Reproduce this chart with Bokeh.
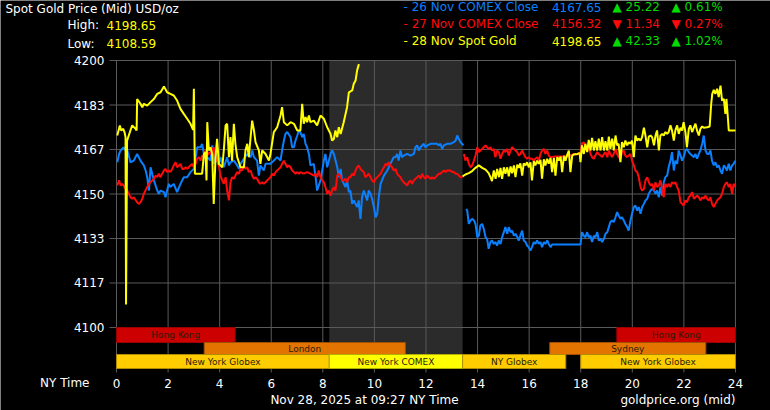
from bokeh.plotting import figure
from bokeh.models import Range1d
from bokeh.embed import file_html
from bokeh.resources import INLINE
from bokeh.core.properties import value

# ---------------- data ----------------
price_ticks = [4100, 4116.667, 4133.333, 4150, 4166.667, 4183.333, 4200]
price_tick_labels = ["4100", "4117", "4133", "4150", "4167", "4183", "4200"]
hour_ticks = [0, 2, 4, 6, 8, 10, 12, 14, 16, 18, 20, 22, 24]

# 26 Nov (COMEX close 4167.65) - blue
nov26_a_hours = [0.03, 0.10, 0.16, 0.28, 0.35, 0.41, 0.54, 0.67, 0.80, 0.93, 1.06, 1.13, 1.19, 1.26, 1.32, 1.45, 1.58, 1.64, 1.71, 1.84, 1.90, 1.96, 2.03, 2.09, 2.22, 2.35, 2.48, 2.61, 2.74, 2.87, 3.00, 3.07, 3.13, 3.26, 3.32, 3.39, 3.52, 3.64, 3.71, 3.77, 3.84, 3.90, 3.97, 4.03, 4.16, 4.29, 4.36, 4.42, 4.55, 4.68, 4.75, 4.81, 4.94, 5.07, 5.20, 5.26, 5.33, 5.45, 5.52, 5.58, 5.71, 5.78, 5.84, 5.97, 6.10, 6.23, 6.36, 6.42, 6.49, 6.55, 6.62, 6.75, 6.81, 6.88, 6.94, 7.01, 7.07, 7.13, 7.20, 7.26, 7.33, 7.39, 7.46, 7.52, 7.65, 7.72, 7.78, 7.91, 8.04, 8.10, 8.17, 8.30, 8.36, 8.43, 8.56, 8.62, 8.69, 8.75, 8.88, 8.94, 9.01, 9.07, 9.14, 9.20, 9.33, 9.39, 9.46, 9.52, 9.59, 9.72, 9.78, 9.85, 9.91, 9.98, 10.05, 10.11, 10.17, 10.24, 10.37, 10.50, 10.62, 10.75, 10.82, 10.88, 10.94, 11.01, 11.07, 11.14, 11.27, 11.40, 11.53, 11.59, 11.66, 11.72, 11.79, 11.92, 11.98, 12.05, 12.18, 12.30, 12.43, 12.50, 12.56, 12.63, 12.69, 12.82, 12.95, 13.08, 13.15, 13.21, 13.27, 13.34, 13.45]
nov26_a_price = [4161.9, 4165.0, 4166.3, 4167.5, 4166.3, 4166.9, 4161.9, 4162.5, 4165.0, 4162.5, 4160.7, 4158.8, 4156.3, 4151.3, 4160.0, 4155.1, 4151.3, 4150.1, 4151.3, 4150.7, 4148.8, 4151.3, 4153.8, 4152.6, 4153.8, 4150.7, 4153.8, 4156.3, 4156.3, 4158.2, 4159.4, 4163.8, 4167.5, 4167.5, 4168.8, 4165.0, 4163.8, 4162.5, 4168.2, 4161.3, 4165.7, 4162.5, 4160.7, 4163.8, 4160.0, 4163.8, 4160.7, 4161.9, 4162.5, 4160.7, 4159.4, 4161.3, 4163.2, 4165.0, 4163.8, 4166.3, 4163.8, 4162.5, 4156.9, 4160.7, 4158.8, 4161.3, 4161.3, 4161.3, 4162.5, 4163.8, 4162.5, 4166.3, 4170.0, 4172.5, 4173.2, 4171.3, 4167.5, 4167.5, 4170.0, 4171.9, 4173.8, 4173.2, 4171.3, 4172.5, 4168.8, 4167.5, 4165.0, 4160.7, 4161.3, 4156.3, 4151.3, 4155.1, 4162.5, 4165.0, 4160.0, 4165.0, 4166.3, 4165.0, 4160.0, 4156.3, 4159.4, 4155.1, 4152.6, 4155.1, 4150.7, 4151.3, 4146.3, 4147.6, 4145.1, 4147.6, 4140.7, 4148.8, 4151.3, 4147.6, 4151.3, 4150.1, 4148.2, 4145.1, 4141.3, 4142.6, 4148.8, 4153.8, 4156.9, 4158.8, 4161.3, 4163.8, 4163.8, 4165.0, 4162.5, 4166.3, 4163.8, 4164.4, 4165.0, 4164.4, 4165.0, 4167.5, 4168.2, 4166.3, 4167.5, 4168.8, 4167.5, 4168.2, 4168.8, 4168.8, 4168.8, 4168.2, 4168.8, 4166.9, 4168.2, 4168.8, 4168.8, 4169.4, 4170.0, 4171.9, 4170.7, 4169.4, 4168.2]
nov26_b_hours = [13.56, 13.60, 13.66, 13.73, 13.79, 13.86, 13.92, 13.99, 14.05, 14.11, 14.18, 14.24, 14.31, 14.37, 14.43, 14.50, 14.56, 14.63, 14.69, 14.76, 14.82, 14.89, 14.95, 15.02, 15.08, 15.15, 15.21, 15.28, 15.34, 15.41, 15.47, 15.54, 15.60, 15.66, 15.73, 15.79, 15.86, 15.92, 15.98, 16.05, 16.11, 16.18, 16.24, 16.31, 16.37, 16.44, 16.50, 16.57, 16.63, 16.70, 16.76, 16.83, 16.89, 16.96, 17.99, 18.05, 18.12, 18.18, 18.25, 18.31, 18.38, 18.44, 18.51, 18.57, 18.64, 18.70, 18.77, 18.83, 18.90, 18.96, 19.03, 19.09, 19.15, 19.22, 19.28, 19.35, 19.41, 19.47, 19.54, 19.60, 19.67, 19.73, 19.80, 19.86, 19.93, 19.99, 20.06, 20.12, 20.19, 20.25, 20.32, 20.38, 20.45, 20.51, 20.58, 20.64, 20.71, 20.77, 20.84, 20.90, 20.96, 21.03, 21.09, 21.16, 21.22, 21.28, 21.35, 21.41, 21.48, 21.54, 21.61, 21.67, 21.74, 21.80, 21.87, 21.93, 21.99, 22.06, 22.12, 22.19, 22.25, 22.32, 22.39, 22.45, 22.51, 22.58, 22.64, 22.71, 22.77, 22.84, 22.90, 22.97, 23.03, 23.09, 23.16, 23.22, 23.29, 23.35, 23.42, 23.48, 23.55, 23.61, 23.67, 23.74, 23.80, 23.87, 23.93, 24.00]
nov26_b_price = [4144.4, 4143.8, 4138.8, 4140.1, 4140.7, 4140.1, 4138.8, 4133.8, 4134.4, 4138.2, 4138.8, 4137.0, 4133.8, 4133.2, 4129.5, 4132.0, 4132.6, 4131.3, 4132.0, 4130.7, 4132.6, 4131.3, 4133.8, 4135.7, 4137.6, 4135.1, 4137.6, 4135.7, 4136.3, 4134.4, 4135.1, 4133.8, 4132.6, 4134.4, 4136.3, 4132.6, 4132.0, 4130.7, 4130.1, 4128.8, 4130.1, 4132.0, 4131.3, 4132.6, 4131.3, 4132.0, 4130.1, 4132.0, 4131.3, 4132.6, 4131.3, 4130.1, 4131.1, 4131.1, 4131.1, 4135.7, 4134.4, 4133.8, 4135.7, 4133.8, 4134.4, 4132.0, 4134.4, 4133.8, 4135.7, 4132.6, 4133.2, 4132.0, 4133.2, 4135.1, 4135.7, 4137.6, 4139.5, 4140.1, 4139.5, 4141.3, 4143.2, 4142.0, 4140.7, 4141.3, 4140.1, 4138.8, 4137.6, 4136.3, 4140.1, 4142.6, 4145.1, 4145.7, 4143.8, 4145.1, 4142.6, 4145.1, 4146.3, 4147.6, 4148.2, 4150.1, 4151.3, 4151.9, 4151.3, 4150.1, 4151.3, 4148.8, 4152.6, 4149.4, 4154.4, 4156.3, 4156.9, 4160.0, 4162.5, 4165.7, 4158.8, 4162.5, 4161.3, 4166.3, 4164.4, 4162.5, 4163.8, 4166.3, 4166.9, 4165.7, 4165.0, 4164.4, 4163.8, 4165.0, 4163.2, 4165.0, 4166.3, 4168.8, 4171.9, 4166.3, 4165.0, 4165.0, 4166.3, 4162.5, 4160.7, 4161.9, 4160.0, 4160.7, 4158.8, 4157.6, 4160.7, 4160.0, 4158.8, 4161.3, 4158.8, 4160.7, 4161.3, 4162.5]

# 27 Nov (COMEX close 4156.32) - red
nov27_a_hours = [0.03, 0.10, 0.16, 0.22, 0.28, 0.35, 0.41, 0.48, 0.54, 0.61, 0.67, 0.80, 0.86, 0.93, 1.00, 1.06, 1.19, 1.26, 1.32, 1.39, 1.45, 1.52, 1.58, 1.64, 1.71, 1.77, 1.84, 1.90, 1.96, 2.03, 2.09, 2.16, 2.22, 2.29, 2.35, 2.42, 2.48, 2.55, 2.61, 2.68, 2.74, 2.80, 2.87, 2.93, 3.00, 3.07, 3.13, 3.20, 3.26, 3.32, 3.39, 3.45, 3.52, 3.58, 3.64, 3.71, 3.77, 3.84, 3.90, 3.97, 4.03, 4.10, 4.16, 4.23, 4.29, 4.36, 4.42, 4.48, 4.55, 4.61, 4.68, 4.75, 4.81, 4.88, 4.94, 5.00, 5.07, 5.13, 5.20, 5.26, 5.33, 5.39, 5.45, 5.52, 5.58, 5.65, 5.71, 5.78, 5.84, 5.91, 5.97, 6.04, 6.10, 6.17, 6.23, 6.36, 6.42, 6.49, 6.55, 6.62, 6.68, 6.75, 6.81, 6.88, 6.94, 7.01, 7.07, 7.13, 7.26, 7.39, 7.52, 7.65, 7.72, 7.78, 7.84, 7.91, 7.97, 8.04, 8.10, 8.17, 8.23, 8.30, 8.36, 8.43, 8.49, 8.56, 8.62, 8.69, 8.75, 8.81, 8.88, 8.94, 9.01, 9.07, 9.14, 9.20, 9.27, 9.33, 9.39, 9.46, 9.52, 9.59, 9.65, 9.72, 9.78, 9.85, 9.91, 9.98, 10.05, 10.11, 10.17, 10.24, 10.30, 10.37, 10.43, 10.50, 10.56, 10.62, 10.69, 10.75, 10.82, 10.88, 10.94, 11.01, 11.07, 11.14, 11.20, 11.27, 11.33, 11.40, 11.46, 11.53, 11.59, 11.66, 11.72, 11.79, 11.85, 11.92, 11.98, 12.05, 12.11, 12.18, 12.24, 12.30, 12.37, 12.43, 12.50, 12.56, 12.63, 12.69, 12.76, 12.82, 12.95, 13.02, 13.08, 13.15, 13.21, 13.27, 13.34, 13.45]
nov27_a_price = [4153.2, 4155.1, 4153.2, 4153.8, 4153.2, 4151.9, 4151.3, 4150.1, 4148.8, 4148.2, 4148.8, 4146.9, 4146.3, 4146.9, 4148.2, 4150.1, 4152.6, 4153.8, 4154.4, 4155.1, 4155.7, 4156.9, 4156.3, 4157.6, 4156.3, 4157.6, 4158.8, 4159.4, 4158.2, 4158.8, 4158.2, 4159.4, 4160.7, 4161.9, 4160.0, 4160.7, 4161.3, 4159.4, 4159.4, 4160.0, 4159.4, 4160.0, 4160.7, 4161.3, 4160.0, 4161.3, 4163.2, 4163.8, 4162.5, 4164.4, 4163.8, 4166.3, 4164.4, 4165.7, 4165.0, 4166.3, 4167.5, 4163.8, 4162.5, 4160.7, 4156.9, 4155.1, 4153.8, 4156.3, 4151.3, 4147.6, 4154.4, 4156.3, 4155.7, 4156.9, 4158.2, 4157.6, 4159.4, 4158.8, 4160.7, 4159.4, 4160.0, 4158.2, 4158.8, 4156.9, 4155.7, 4156.3, 4155.7, 4154.4, 4153.8, 4154.4, 4153.8, 4154.4, 4155.1, 4155.7, 4156.3, 4157.6, 4156.9, 4158.2, 4158.8, 4160.0, 4161.3, 4162.5, 4161.3, 4160.0, 4160.7, 4160.0, 4158.8, 4158.2, 4157.6, 4158.2, 4157.6, 4158.2, 4157.6, 4158.2, 4157.6, 4156.9, 4157.6, 4156.3, 4158.8, 4156.3, 4155.1, 4154.4, 4152.6, 4150.1, 4151.3, 4149.4, 4151.3, 4152.6, 4151.3, 4156.9, 4157.6, 4156.3, 4155.1, 4155.1, 4155.7, 4154.4, 4156.3, 4156.3, 4157.6, 4156.9, 4158.8, 4160.0, 4160.7, 4159.4, 4158.8, 4158.2, 4156.3, 4156.9, 4157.6, 4156.3, 4155.1, 4154.4, 4155.7, 4156.3, 4156.9, 4157.6, 4158.8, 4160.0, 4161.3, 4160.7, 4161.9, 4160.7, 4160.0, 4158.8, 4159.4, 4157.6, 4156.9, 4156.3, 4155.1, 4154.4, 4153.8, 4153.2, 4154.4, 4155.1, 4153.8, 4155.1, 4155.7, 4156.3, 4156.9, 4155.7, 4157.6, 4156.3, 4155.7, 4156.9, 4156.3, 4155.7, 4156.3, 4155.7, 4156.3, 4156.9, 4157.6, 4157.6, 4158.2, 4158.8, 4158.2, 4158.8, 4158.8, 4158.2, 4158.2, 4157.6, 4157.6, 4156.9, 4156.3, 4156.6]
nov27_b_hours = [13.47, 13.53, 13.60, 13.66, 13.73, 13.79, 13.86, 13.92, 13.99, 14.05, 14.11, 14.18, 14.24, 14.31, 14.37, 14.43, 14.50, 14.56, 14.63, 14.69, 14.76, 14.82, 14.89, 14.95, 15.02, 15.08, 15.15, 15.21, 15.28, 15.34, 15.41, 15.47, 15.54, 15.60, 15.66, 15.73, 15.79, 15.86, 15.92, 15.98, 16.05, 16.11, 16.18, 16.24, 16.31, 16.37, 16.44, 16.50, 16.57, 16.63, 16.70, 16.76, 16.83, 16.96, 17.22, 17.47, 17.60, 17.73, 17.86, 17.99, 18.05, 18.12, 18.18, 18.25, 18.31, 18.38, 18.44, 18.51, 18.57, 18.64, 18.70, 18.77, 18.83, 18.90, 18.96, 19.03, 19.09, 19.15, 19.22, 19.28, 19.35, 19.41, 19.47, 19.54, 19.60, 19.67, 19.73, 19.80, 19.86, 19.93, 19.99, 20.06, 20.12, 20.19, 20.25, 20.32, 20.38, 20.45, 20.51, 20.58, 20.64, 20.71, 20.77, 20.84, 20.90, 20.96, 21.03, 21.09, 21.16, 21.22, 21.28, 21.35, 21.41, 21.48, 21.54, 21.61, 21.67, 21.74, 21.80, 21.87, 21.93, 21.99, 22.06, 22.12, 22.19, 22.25, 22.32, 22.39, 22.45, 22.51, 22.58, 22.64, 22.71, 22.77, 22.84, 22.90, 22.97, 23.03, 23.09, 23.16, 23.22, 23.29, 23.35, 23.42, 23.48, 23.55, 23.61, 23.67, 23.74, 23.80, 23.87, 23.93, 24.00]
nov27_b_price = [4165.0, 4162.5, 4163.8, 4161.3, 4160.0, 4160.7, 4162.5, 4164.4, 4167.5, 4165.7, 4166.3, 4166.9, 4167.5, 4168.2, 4167.5, 4166.9, 4167.5, 4166.3, 4166.9, 4163.8, 4166.3, 4165.7, 4163.2, 4165.0, 4166.3, 4165.7, 4166.9, 4164.4, 4166.3, 4167.5, 4166.9, 4166.3, 4165.7, 4164.4, 4165.0, 4166.3, 4165.0, 4163.8, 4163.2, 4163.8, 4163.2, 4163.2, 4162.5, 4163.2, 4163.8, 4162.5, 4165.0, 4166.3, 4166.9, 4165.0, 4166.3, 4164.4, 4163.8, 4164.0, 4164.0, 4164.0, 4164.4, 4165.0, 4164.8, 4165.7, 4168.8, 4169.4, 4167.5, 4166.3, 4167.5, 4165.0, 4163.8, 4163.2, 4164.4, 4165.7, 4165.0, 4164.4, 4163.8, 4165.0, 4165.7, 4163.8, 4166.3, 4165.0, 4163.8, 4165.0, 4166.9, 4165.0, 4163.8, 4163.2, 4165.7, 4166.3, 4164.4, 4163.8, 4164.4, 4165.0, 4162.5, 4160.7, 4158.8, 4158.2, 4156.3, 4152.6, 4151.3, 4151.9, 4155.1, 4156.3, 4154.4, 4153.2, 4153.8, 4151.3, 4154.4, 4152.6, 4153.2, 4155.1, 4151.9, 4148.8, 4153.8, 4152.6, 4153.8, 4152.6, 4154.4, 4153.8, 4154.4, 4152.6, 4151.3, 4146.9, 4146.3, 4145.7, 4147.6, 4146.9, 4148.8, 4149.4, 4150.7, 4148.2, 4148.8, 4149.4, 4148.8, 4147.6, 4148.8, 4148.2, 4149.4, 4148.2, 4147.6, 4148.8, 4146.3, 4145.1, 4146.3, 4147.6, 4148.2, 4148.8, 4150.1, 4152.6, 4153.8, 4154.4, 4152.6, 4153.8, 4150.1, 4153.8, 4152.6]

# 28 Nov spot gold - yellow
nov28_a_hours = [0.03, 0.13, 0.18, 0.26, 0.31, 0.35, 0.37, 0.41, 0.54, 0.61, 0.74, 0.78, 0.80, 0.93, 1.00, 1.06, 1.19, 1.32, 1.45, 1.58, 1.71, 1.84, 1.96, 2.09, 2.22, 2.35, 2.48, 2.61, 2.74, 2.87, 2.97, 3.00, 3.04, 3.26, 3.32, 3.39, 3.45, 3.49, 3.52, 3.58, 3.64, 3.71, 3.77, 3.84, 3.90, 3.97, 4.10, 4.16, 4.23, 4.29, 4.36, 4.42, 4.48, 4.55, 4.61, 4.68, 4.81, 4.94, 5.00, 5.07, 5.13, 5.20, 5.26, 5.33, 5.39, 5.52, 5.58, 5.65, 5.78, 5.91, 5.97, 6.04, 6.10, 6.23, 6.36, 6.42, 6.49, 6.62, 6.75, 6.88, 7.01, 7.13, 7.20, 7.26, 7.33, 7.39, 7.46, 7.52, 7.65, 7.78, 7.91, 8.04, 8.17, 8.30, 8.36, 8.43, 8.49, 8.56, 8.62, 8.69, 8.81, 8.94, 9.01, 9.14, 9.20, 9.27, 9.33, 9.40]
nov28_a_price = [4171.9, 4175.7, 4173.8, 4174.4, 4173.2, 4171.3, 4108.59, 4170.0, 4173.8, 4175.7, 4174.4, 4173.8, 4185.6, 4183.8, 4182.5, 4183.8, 4183.1, 4184.4, 4185.6, 4187.5, 4188.1, 4190.3, 4188.1, 4187.5, 4186.9, 4185.0, 4181.9, 4180.0, 4178.2, 4176.3, 4174.0, 4189.4, 4157.6, 4157.6, 4157.6, 4165.0, 4165.7, 4155.1, 4176.9, 4166.3, 4167.5, 4165.0, 4146.3, 4163.8, 4170.7, 4161.3, 4160.0, 4166.3, 4175.7, 4176.3, 4163.8, 4171.3, 4162.5, 4176.3, 4168.8, 4163.8, 4160.0, 4160.0, 4166.3, 4168.8, 4163.8, 4171.3, 4177.5, 4173.8, 4169.4, 4166.3, 4161.3, 4166.3, 4165.0, 4162.5, 4165.0, 4169.4, 4173.2, 4175.0, 4179.4, 4182.5, 4176.9, 4175.7, 4176.9, 4176.3, 4173.8, 4173.8, 4183.8, 4176.3, 4178.8, 4176.9, 4179.4, 4176.9, 4177.5, 4175.7, 4179.4, 4178.2, 4175.0, 4172.5, 4170.0, 4170.7, 4173.8, 4171.3, 4175.0, 4172.5, 4176.9, 4182.5, 4188.1, 4188.8, 4191.3, 4192.5, 4196.3, 4198.65]
nov28_b_hours = [13.42, 13.53, 13.66, 13.79, 13.92, 14.05, 14.18, 14.31, 14.43, 14.50, 14.56, 14.63, 14.70, 14.76, 14.83, 14.89, 14.95, 15.02, 15.08, 15.15, 15.21, 15.28, 15.34, 15.41, 15.47, 15.54, 15.60, 15.66, 15.73, 15.79, 15.86, 15.92, 15.99, 16.05, 16.11, 16.18, 16.24, 16.31, 16.37, 16.44, 16.50, 16.57, 16.63, 16.70, 16.76, 16.83, 16.89, 16.96, 17.02, 17.09, 17.15, 17.22, 17.28, 17.35, 17.41, 17.47, 17.54, 17.60, 17.67, 17.73, 17.86, 17.96, 17.99, 18.05, 18.12, 18.18, 18.25, 18.31, 18.38, 18.44, 18.51, 18.57, 18.64, 18.70, 18.77, 18.83, 18.90, 18.96, 19.03, 19.09, 19.15, 19.22, 19.28, 19.35, 19.41, 19.47, 19.54, 19.60, 19.67, 19.73, 19.80, 19.86, 19.93, 19.99, 20.06, 20.12, 20.19, 20.25, 20.32, 20.38, 20.45, 20.51, 20.58, 20.64, 20.71, 20.77, 20.84, 20.90, 20.96, 21.03, 21.09, 21.16, 21.22, 21.28, 21.35, 21.41, 21.48, 21.54, 21.61, 21.67, 21.74, 21.80, 21.87, 21.93, 21.99, 22.06, 22.12, 22.19, 22.25, 22.32, 22.39, 22.45, 22.51, 22.58, 22.64, 22.71, 22.77, 22.90, 23.00, 23.06, 23.10, 23.16, 23.22, 23.29, 23.35, 23.42, 23.48, 23.55, 23.61, 23.65, 23.70, 23.74, 24.00]
nov28_b_price = [4156.6, 4157.3, 4157.8, 4158.6, 4159.8, 4160.7, 4159.8, 4159.1, 4157.8, 4156.3, 4154.8, 4158.8, 4155.7, 4159.4, 4156.3, 4159.8, 4155.7, 4160.0, 4157.6, 4160.0, 4156.6, 4160.3, 4157.8, 4160.7, 4156.3, 4161.0, 4159.8, 4161.5, 4156.9, 4161.5, 4160.7, 4161.9, 4160.0, 4161.9, 4155.1, 4162.3, 4160.7, 4162.5, 4161.3, 4162.8, 4155.7, 4163.0, 4160.7, 4163.2, 4161.3, 4163.5, 4158.2, 4163.5, 4156.9, 4163.8, 4162.5, 4164.0, 4158.2, 4164.3, 4162.5, 4164.5, 4166.3, 4158.2, 4164.4, 4164.8, 4165.0, 4165.3, 4161.9, 4168.2, 4165.0, 4168.8, 4165.7, 4170.3, 4166.3, 4171.0, 4166.3, 4169.8, 4166.3, 4170.7, 4166.3, 4171.3, 4166.3, 4169.8, 4166.3, 4171.5, 4166.9, 4170.7, 4166.3, 4171.9, 4168.2, 4168.8, 4161.9, 4169.4, 4167.5, 4170.0, 4168.2, 4169.4, 4168.8, 4170.0, 4163.8, 4171.9, 4170.0, 4170.7, 4170.0, 4171.3, 4174.8, 4171.9, 4167.5, 4171.5, 4171.9, 4171.3, 4168.2, 4171.9, 4173.8, 4166.3, 4171.9, 4172.5, 4171.9, 4173.2, 4172.5, 4173.2, 4175.7, 4173.8, 4170.0, 4173.8, 4175.7, 4172.5, 4174.8, 4173.8, 4176.9, 4173.2, 4167.5, 4174.4, 4175.7, 4173.2, 4175.0, 4176.3, 4173.8, 4171.9, 4174.4, 4175.3, 4174.8, 4175.0, 4175.3, 4183.8, 4187.5, 4189.0, 4187.5, 4189.4, 4186.3, 4190.6, 4185.0, 4185.6, 4180.0, 4185.6, 4179.4, 4173.8, 4173.8]

# header figures
title_text = "Spot Gold Price (Mid) USD/oz"
day_high = "4198.65"
day_low = "4108.59"
legend_names = ["26 Nov COMEX Close", "27 Nov COMEX Close", "28 Nov Spot Gold"]
legend_prices = ["4167.65", "4156.32", "4198.65"]
legend_changes = ["25.22", "11.34", "42.33"]
legend_pcts = ["0.61%", "0.27%", "1.02%"]
legend_up = [True, False, True]

# trading sessions (row 0 = Asia, row 1 = Europe/Sydney, row 2 = New York)
session_names = ["Hong Kong", "Hong Kong", "London", "Sydney", "New York Globex", "New York COMEX", "NY Globex", "New York Globex"]
session_start = [0, 19.4, 3.4, 16.8, 0, 8.25, 13.42, 18.0]
session_end = [4.6, 24, 11.2, 22.85, 8.25, 13.42, 17.42, 24]
session_row = [0, 0, 1, 1, 2, 2, 2, 2]
comex_shade = (8.25, 13.42)

axis_title = "NY Time"
time_stamp = "Nov 28, 2025 at 09:27 NY Time"
source_text = "goldprice.org (mid)"

# ---------------- layout / style ----------------
FONT = "DejaVu Sans"
BLUE = "#0a80ff"
RED = "#ff0a0a"
YELLOW = "#ffff00"
GREEN = "#00dd00"
GRID = "#5a5a5a"
W, H = 770, 410

PX_PER_H = 25.79            # canvas pixels per hour
PX_PER_P = 2.67             # canvas pixels per USD
FRAME_L, FRAME_T = 116, 60  # canvas px of (0 h, 4200 USD)

def hx(px):
    return (px - FRAME_L) / PX_PER_H

def vy(py):
    return 4200 - (py - FRAME_T) / PX_PER_P

row_edges = [vy(327), vy(342), vy(354), vy(368)]
P_TOP = 4200

p = figure(width=W, height=H, output_backend="svg", toolbar_location=None,
           x_range=Range1d(hx(0), hx(W)), y_range=Range1d(vy(H), vy(0)),
           x_axis_location=None, y_axis_location=None, min_border=0)
p.min_border_left = p.min_border_right = p.min_border_top = p.min_border_bottom = 0
p.background_fill_color = "black"
p.border_fill_color = "black"
p.outline_line_color = None
p.grid.visible = False

def txt(xs, ys, texts, color="white", align="left", size="12px"):
    p.text(x=xs, y=ys, text=texts, text_color=color, text_font=value(FONT),
           text_font_size=size, text_align=align, text_baseline="middle")

# COMEX session shading
p.quad(left=[comex_shade[0]], right=[comex_shade[1]], bottom=[row_edges[2]], top=[P_TOP],
       fill_color="#2b2b2b", line_color=None)

# grid lines with their tick marks
p.segment(x0=hour_ticks, x1=hour_ticks, y0=[vy(372)] * len(hour_ticks), y1=[P_TOP] * len(hour_ticks),
          line_color=GRID, line_width=1)
p.segment(x0=[hx(109)] * len(price_ticks), x1=[hour_ticks[-1]] * len(price_ticks), y0=price_ticks, y1=price_ticks,
          line_color=GRID, line_width=1)

# axis tick labels
txt([hx(104)] * len(price_ticks), price_ticks, price_tick_labels, align="right")
txt(hour_ticks, [vy(382.5)] * len(hour_ticks), [str(h) for h in hour_ticks], align="center")
txt([hx(89)], [vy(382.5)], [axis_title], align="right")

# session bands
fills = {"Hong Kong": "#cc0000", "London": "#e37400", "Sydney": "#e37400",
         "New York Globex": "#ffcc00", "NY Globex": "#ffcc00", "New York COMEX": "#ffff00"}
edges = {"Hong Kong": "#990000", "London": "#a05000", "Sydney": "#a05000",
         "New York Globex": "#b08a00", "NY Globex": "#b08a00", "New York COMEX": "#b0b000"}
for name, s, e, r in zip(session_names, session_start, session_end, session_row):
    p.quad(left=[s], right=[e], top=[row_edges[r]], bottom=[row_edges[r + 1]],
           fill_color=fills[name], line_color=edges[name], line_width=1)
    txt([(s + e) / 2], [(row_edges[r] + row_edges[r + 1]) / 2], [name], color="#2a1c08",
        align="center", size="9px")

# price lines
for hs, ps, c in [(nov26_a_hours, nov26_a_price, BLUE), (nov26_b_hours, nov26_b_price, BLUE),
                  (nov27_a_hours, nov27_a_price, RED), (nov27_b_hours, nov27_b_price, RED),
                  (nov28_a_hours, nov28_a_price, YELLOW), (nov28_b_hours, nov28_b_price, YELLOW)]:
    p.line(hs, ps, line_color=c, line_width=2)

# header
txt([hx(5)], [vy(8)], [title_text])
txt([hx(67), hx(67)], [vy(24.7), vy(43)], ["High:", "Low:"])
txt([hx(106), hx(106)], [vy(24.7), vy(43)], [day_high, day_low], color=YELLOW)

row_mid = [6.8, 23.4, 40.8]
for i, (name, price, chg, pct, up) in enumerate(zip(legend_names, legend_prices, legend_changes, legend_pcts, legend_up)):
    col = [BLUE, RED, YELLOW][i]
    yy = vy(row_mid[i])
    txt([hx(403)], [yy], ["- " + name], color=col)
    txt([hx(601)], [yy], [price], color=col, align="right")
    arrow = "\u25b2 " if up else "\u25bc "
    ccol = GREEN if up else RED
    txt([hx(612), hx(671)], [yy, yy], [arrow + chg, arrow + pct], color=ccol)

# footer
txt([hx(364)], [vy(399)], [time_stamp], align="center")
txt([hx(735)], [vy(399)], [source_text], align="right")

open("out.html", "w").write(file_html(p, INLINE))
